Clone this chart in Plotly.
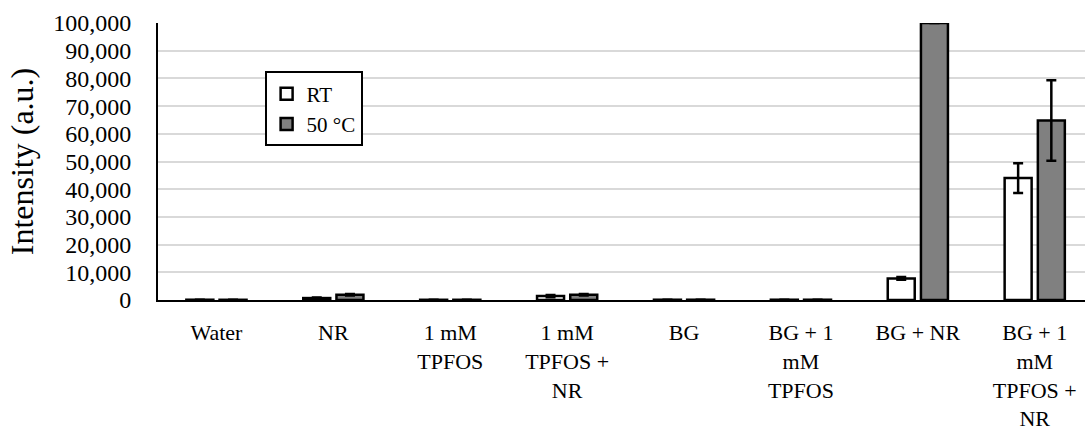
import plotly.graph_objects as go

categories = ["Water", "NR", "1 mM<br>TPFOS", "1 mM<br>TPFOS +<br>NR", "BG",
              "BG + 1<br>mM<br>TPFOS", "BG + NR", "BG + 1<br>mM<br>TPFOS +<br>NR"]
rt_values = [100, 700, 80, 1400, 100, 100, 7800, 44000]
rt_errors = [30, 200, 30, 400, 30, 30, 500, 5400]
hot_values = [80, 1900, 80, 1900, 100, 100, 100000, 64800]
hot_errors = [30, 250, 30, 300, 30, 30, 0, 14500]
y_ticks = list(range(0, 100001, 10000))

font_family = "Liberation Serif, Times New Roman, serif"

fig = go.Figure()
fig.add_trace(go.Bar(
    name="RT", x=list(range(len(categories))), y=rt_values,
    marker=dict(color="white", line=dict(color="black", width=2.5)),
    error_y=dict(type="data", array=rt_errors, color="black", thickness=2.5, width=5),
))
fig.add_trace(go.Bar(
    name="50 °C", x=list(range(len(categories))), y=hot_values,
    marker=dict(color="#808080", line=dict(color="black", width=2.5)),
    error_y=dict(type="data", array=hot_errors, color="black", thickness=2.5, width=5),
))

fig.update_layout(
    width=1085, height=433,
    margin=dict(l=158, r=0, t=23, b=133),
    paper_bgcolor="white", plot_bgcolor="white",
    barmode="group", bargap=0.432, bargroupgap=0.187,
    font=dict(family=font_family, color="black", size=24),
    showlegend=True,
    legend=dict(x=0.115, y=0.825, xanchor="left", yanchor="top",
                bordercolor="black", borderwidth=2, bgcolor="white",
                font=dict(size=21, family=font_family), tracegroupgap=0,
                itemwidth=30),
)
fig.update_xaxes(
    tickmode="array", tickvals=list(range(len(categories))), ticktext=categories,
    range=[-0.5, 7.43], showline=True, linecolor="black", linewidth=2,
    showgrid=False, ticks="", tickangle=0, automargin=False,
    tickfont=dict(size=22, family=font_family), ticklabelstandoff=12,
)
fig.update_yaxes(
    range=[0, 100000], tickvals=y_ticks, tickformat=",d",
    showline=True, linecolor="black", linewidth=2, automargin=False,
    showgrid=True, gridcolor="#d9d9d9", gridwidth=2, zeroline=False,
    ticks="", tickfont=dict(size=24, family=font_family), ticklabelstandoff=20,
    title=dict(text="Intensity (a.u.)", font=dict(size=32, family=font_family), standoff=10),
)

fig.write_html("out.html")
